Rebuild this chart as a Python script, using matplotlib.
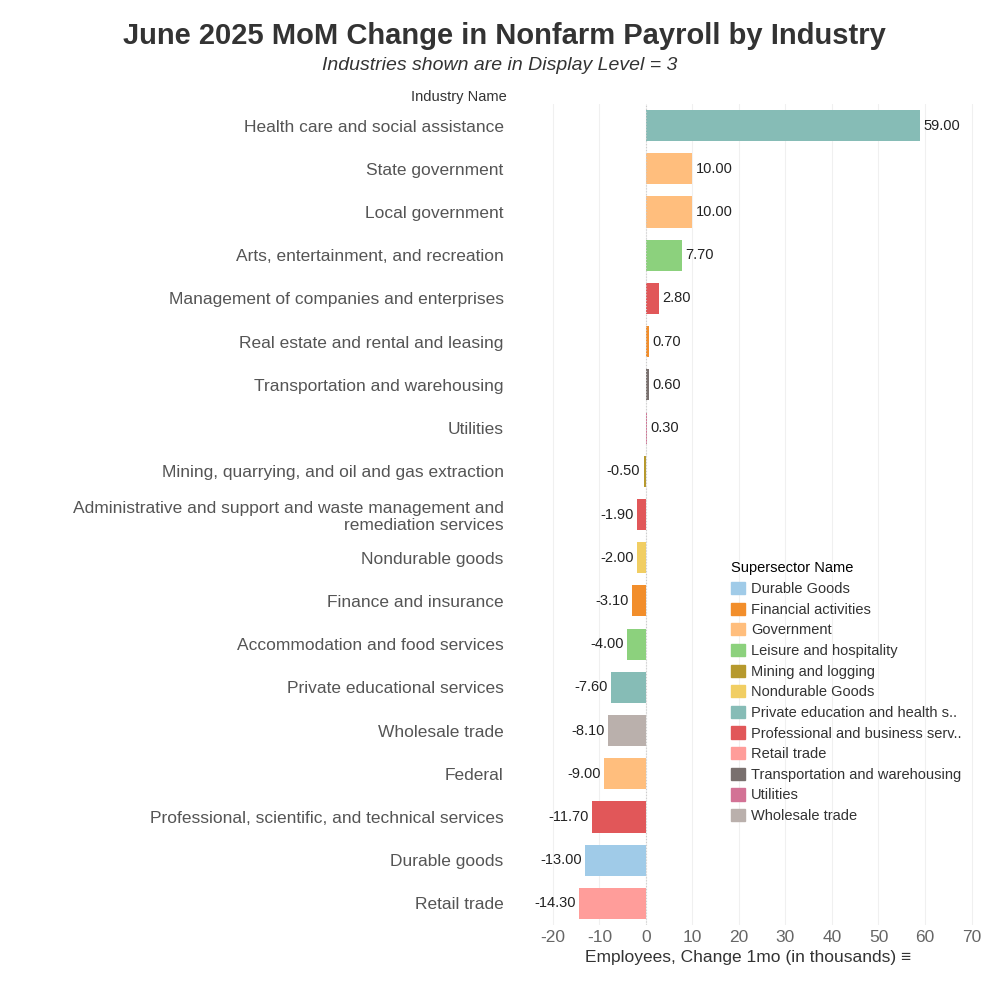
import matplotlib.pyplot as plt
from matplotlib.patches import Patch

plt.rcParams['font.family'] = ['Liberation Sans', 'DejaVu Sans']
plt.rcParams['axes.unicode_minus'] = False

industries = ["Health care and social assistance", "State government", "Local government",
              "Arts, entertainment, and recreation", "Management of companies and enterprises",
              "Real estate and rental and leasing", "Transportation and warehousing", "Utilities",
              "Mining, quarrying, and oil and gas extraction",
              "Administrative and support and waste management and\nremediation services",
              "Nondurable goods", "Finance and insurance", "Accommodation and food services",
              "Private educational services", "Wholesale trade", "Federal",
              "Professional, scientific, and technical services", "Durable goods", "Retail trade"]
changes = [59.0, 10.0, 10.0, 7.7, 2.8, 0.7, 0.6, 0.3, -0.5, -1.9, -2.0, -3.1, -4.0, -7.6, -8.1,
           -9.0, -11.7, -13.0, -14.3]
sectors = ["Private education and health s..", "Government", "Government", "Leisure and hospitality",
           "Professional and business serv..", "Financial activities", "Transportation and warehousing",
           "Utilities", "Mining and logging", "Professional and business serv..", "Nondurable Goods",
           "Financial activities", "Leisure and hospitality", "Private education and health s..",
           "Wholesale trade", "Government", "Professional and business serv..", "Durable Goods",
           "Retail trade"]

sector_colors = {
    "Durable Goods": "#A0CBE8",
    "Financial activities": "#F28E2B",
    "Government": "#FFBE7D",
    "Leisure and hospitality": "#8CD17D",
    "Mining and logging": "#B6992D",
    "Nondurable Goods": "#F1CE63",
    "Private education and health s..": "#86BCB6",
    "Professional and business serv..": "#E15759",
    "Retail trade": "#FF9D9A",
    "Transportation and warehousing": "#79706E",
    "Utilities": "#D37295",
    "Wholesale trade": "#BAB0AC",
}

fig = plt.figure(figsize=(10, 10), dpi=100)
ax = fig.add_axes([0.512, 0.075, 0.473, 0.821])
ypos = list(range(len(industries)))
ax.barh(ypos, changes, height=0.72, color=[sector_colors[s] for s in sectors], zorder=3)
for y, v in zip(ypos, changes):
    if v >= 0:
        ax.text(v + 0.7, y, f"{v:.2f}", va="center", ha="left", fontsize=10.5, color="#222")
    else:
        ax.text(v - 0.7, y, f"{v:.2f}", va="center", ha="right", fontsize=10.5, color="#222")
ax.set_ylim(len(industries) - 0.5, -0.5)
ax.set_xlim(-28.8, 72.9)
ax.set_xticks(range(-20, 71, 10))
ax.tick_params(axis="x", labelsize=12.5, labelcolor="#666", length=0)
ax.set_yticks(ypos)
ax.set_yticklabels(industries, fontsize=12.5, color="#555")
ax.tick_params(axis="y", length=0, pad=6)
ax.grid(axis="x", color="#f0f0f0", linewidth=0.8, zorder=0)
ax.axvline(0, color="#cccccc", linewidth=0.8, linestyle=":", zorder=4)
for s in ax.spines.values():
    s.set_visible(False)
ax.set_xlabel("Employees, Change 1mo (in thousands) \u2261", fontsize=12.5, color="#333")

fig.text(0.504, 0.964, "June 2025 MoM Change in Nonfarm Payroll by Industry", ha="center",
         va="center", fontsize=21, fontweight="bold", color="#333")
fig.text(0.5, 0.935, "Industries shown are in Display Level = 3", ha="center", va="center",
         fontsize=14, style="italic", color="#333")
fig.text(0.507, 0.903, "Industry Name", ha="right", va="center", fontsize=10.5, color="#333")

handles = [Patch(color=c, label=n) for n, c in sector_colors.items()]
leg = ax.legend(handles=handles, title="Supersector Name", loc="upper left",
                bbox_to_anchor=(0.45, 0.45), frameon=False, fontsize=10.5,
                title_fontsize=10.5, handlelength=1.0, handleheight=0.9,
                labelspacing=0.45, handletextpad=0.4, borderaxespad=0)
leg._legend_box.align = "left"
for t in leg.get_texts():
    t.set_color("#333")

fig.savefig("out.png", dpi=100, facecolor="white")
